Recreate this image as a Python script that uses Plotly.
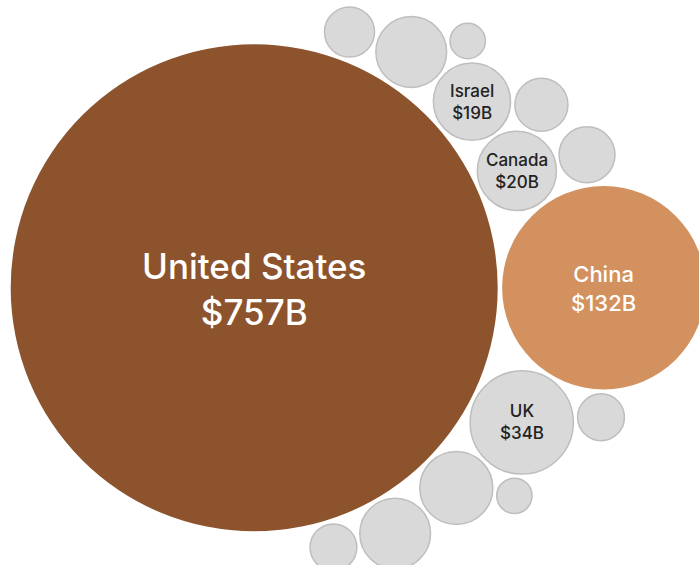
import math
import plotly.graph_objects as go

# Trade value by partner, billions of USD (unnamed entries are smaller partners)
countries = ["United States", "China", "UK", "Canada", "Israel",
             None, None, None, None, None, None, None, None, None, None]
values = [757, 132, 34, 20, 19, 9, 10, 16, 4, 8, 7, 17, 4, 16, 7]
groups = ["top", "second", "other", "other", "other", "other", "other", "other",
          "other", "other", "other", "other", "other", "other", "other"]

# Packing order: each bubble rests against two earlier bubbles (a, b, side)
# side = +1 places it to the left of a->b, -1 to the right.
packing = [None, "right-of-0",
           (0, 1, -1), (0, 1, +1), (0, 3, +1), (4, 3, +1), (3, 1, +1),
           (0, 4, +1), (7, 4, +1), (0, 7, +1),
           (2, 1, -1), (0, 2, -1), (2, 11, +1), (0, 11, -1), (0, 13, -1)]

PAD = 0.5          # gap between neighbouring bubbles, in data units
PX_PER_UNIT = 8.85  # screen scale
CENTER_PX = (254.2, 287.8)
W, H = 699, 565

styles = {
    "top": dict(fill="#8C532D", line="rgba(0,0,0,0)", lw=0, text="#FFFFFF", size=35, shift=-1),
    "second": dict(fill="#D2915F", line="rgba(0,0,0,0)", lw=0, text="#FFFFFF", size=22, shift=-1),
    "other": dict(fill="#D9D9D9", line="#BEBEBE", lw=1.5, text="#222222", size=17, shift=0),
}

# Bubble area proportional to value
radii = [math.sqrt(v) for v in values]
centers = []
for i, spec in enumerate(packing):
    r = radii[i]
    if spec is None:
        centers.append((0.0, 0.0))
    elif spec == "right-of-0":
        centers.append((radii[0] + r + PAD, 0.0))
    else:
        a, b, side = spec
        ax, ay = centers[a]
        bx, by = centers[b]
        da = radii[a] + r + PAD
        db = radii[b] + r + PAD
        dx, dy = bx - ax, by - ay
        D = math.hypot(dx, dy)
        ex, ey = dx / D, dy / D
        t = (da * da - db * db + D * D) / (2 * D)
        h = math.sqrt(max(da * da - t * t, 0.0))
        centers.append((ax + t * ex - side * h * ey, ay + t * ey + side * h * ex))

shapes = []
for (cx, cy), r, g in zip(centers, radii, groups):
    st = styles[g]
    shapes.append(dict(
        type="circle", xref="x", yref="y", layer="below",
        x0=cx - r, x1=cx + r, y0=cy - r, y1=cy + r,
        fillcolor=st["fill"],
        line=dict(color=st["line"], width=st["lw"]),
    ))

annotations = []
for (cx, cy), name, v, g in zip(centers, countries, values, groups):
    if name is None:
        continue
    st = styles[g]
    annotations.append(dict(
        x=cx, y=cy, xref="x", yref="y",
        text=f"{name}<br>${v}B", showarrow=False,
        xanchor="center", yanchor="middle", align="center", yshift=st["shift"],
        font=dict(family="Inter, Roboto, sans-serif", size=st["size"],
                  color=st["text"], weight=500),
    ))

fig = go.Figure()
fig.add_trace(go.Scatter(
    x=[c[0] for c in centers], y=[c[1] for c in centers],
    mode="markers", marker=dict(size=1, opacity=0),
    hoverinfo="skip", showlegend=False,
))

k = PX_PER_UNIT
fig.update_layout(
    width=W, height=H,
    margin=dict(l=0, r=0, t=0, b=0),
    paper_bgcolor="white", plot_bgcolor="white",
    shapes=shapes,
    annotations=annotations,
    showlegend=False,
    xaxis=dict(range=[-CENTER_PX[0] / k, (W - CENTER_PX[0]) / k],
               visible=False, showgrid=False, zeroline=False, fixedrange=True),
    yaxis=dict(range=[-(H - CENTER_PX[1]) / k, CENTER_PX[1] / k],
               visible=False, showgrid=False, zeroline=False, fixedrange=True),
)

fig.write_html("out.html")
